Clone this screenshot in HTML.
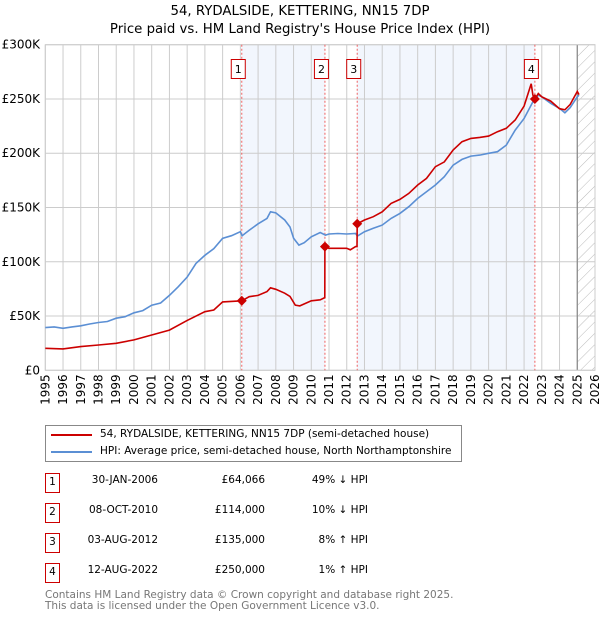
<!DOCTYPE html>
<html><head><meta charset="utf-8"><style>
body{margin:0;background:#fff;font-family:"DejaVu Sans","Liberation Sans",sans-serif;}
#wrap{position:relative;width:600px;height:620px;overflow:hidden}
.t{position:absolute;white-space:nowrap;font-size:12px;color:#000}
</style></head><body><div id="wrap">
<div class="t" style="left:0;width:600px;text-align:center;top:4px;font-size:13.3px">54, RYDALSIDE, KETTERING, NN15 7DP</div>
<div class="t" style="left:0;width:600px;text-align:center;top:22px;font-size:13.3px">Price paid vs. HM Land Registry's House Price Index (HPI)</div>
<svg id="chart" width="600" height="420" style="position:absolute;left:0;top:0" font-family="DejaVu Sans, Liberation Sans, sans-serif"></svg>
<div style="position:absolute;left:45px;top:425px;width:415px;height:35px;border:1px solid #888">
<div><div style="position:absolute;left:5px;top:8px;width:41px;height:2px;background:#cc0000"></div><div class="t" style="left:54px;top:2px;font-size:10.5px">54, RYDALSIDE, KETTERING, NN15 7DP (semi-detached house)</div></div>
<div><div style="position:absolute;left:5px;top:25px;width:41px;height:2px;background:#5b8fd4"></div><div class="t" style="left:54px;top:19px;font-size:10.5px">HPI: Average price, semi-detached house, North Northamptonshire</div></div>
</div>
<div id="table"></div>
<div class="t" style="left:45px;top:589px;font-size:10.5px;color:#777">Contains HM Land Registry data © Crown copyright and database right 2025.</div>
<div class="t" style="left:45px;top:600px;font-size:10.5px;color:#777">This data is licensed under the Open Government Licence v3.0.</div>
</div>
<script>
const hpiYears=[1995,1995.5,1996,1996.5,1997,1997.5,1998,1998.5,1999,1999.5,2000,2000.5,2001,2001.5,2002,2002.5,2003,2003.5,2004,2004.5,2005,2005.5,2006,2006.1,2006.5,2007,2007.5,2007.7,2008,2008.5,2008.8,2009,2009.3,2009.6,2010,2010.5,2010.8,2011,2011.5,2012,2012.5,2012.6,2013,2013.5,2014,2014.5,2015,2015.5,2016,2016.5,2017,2017.5,2018,2018.5,2019,2019.5,2020,2020.5,2021,2021.5,2022,2022.5,2022.8,2023,2023.5,2024,2024.3,2024.6,2025,2025.1];
const hpiValues=[39.3,40,38.7,40,41,42.7,44,45,48,49.4,53,55,60,62,69,77,86,98.5,106,112,121.6,124,127.7,124,129,135,140,146,145,138.5,132,121.6,115.4,117.6,123,127,124.6,125.6,126,125.6,126,123.7,127.7,130.8,133.8,140,144.6,150.7,158.4,164.6,170.7,178.4,189,194.3,197.4,198.3,199.9,201.4,207.5,221.3,232,247.4,253.6,252,246,241.3,237.3,242,252,253.5];
const priceYears=[1995,1996,1997,1998,1999,2000,2001,2002,2003,2004,2004.5,2005,2006.08,2006.5,2007,2007.5,2007.7,2008,2008.5,2008.8,2009.1,2009.35,2010,2010.5,2010.76,2010.77,2011,2011.5,2012,2012.2,2012.5,2012.58,2012.59,2013,2013.5,2014,2014.5,2015,2015.5,2016,2016.5,2017,2017.5,2018,2018.5,2019,2019.5,2020,2020.5,2021,2021.5,2022,2022.4,2022.5,2022.61,2022.8,2023,2023.5,2024,2024.3,2024.6,2025,2025.1];
const priceValues=[20.3,19.7,21.8,23.3,24.9,28,32.5,37,46,54,55.6,63,64.066,67.8,69,72.5,76,74.6,71,68,60,59.3,64,65,67,114,112.4,112.4,112.4,111,114,114,135,138.5,141.5,146,153.8,157.5,163,170.7,176.8,187.6,192,203,210.6,213.7,214.6,215.8,219.8,223,230.6,243.5,264,253.6,250,255,252,248,241,240,245,257,254];
const saleYears=[2006.08,2010.77,2012.59,2022.61];
const saleValues=[64.066,114,135,250];
const saleLabels=['1','2','3','4'];
const saleDates=['30-JAN-2006','08-OCT-2010','03-AUG-2012','12-AUG-2022'];
const salePrices=['£64,066','£114,000','£135,000','£250,000'];
const saleHpi=['49% ↓ HPI','10% ↓ HPI','8% ↑ HPI','1% ↑ HPI'];
const yTicks=[0,50,100,150,200,250,300];
const yTickLabels=['£0','£50K','£100K','£150K','£200K','£250K','£300K'];
const xTicks=[];for(let y=1995;y<=2026;y++)xTicks.push(y);

const X0=45.3,X1=595,Y0=370.3,Y1=44.7;
const xs=y=>X0+(y-1995)/(2026-1995)*(X1-X0);
const ys=v=>Y0-v/300*(Y0-Y1);
const NS='http://www.w3.org/2000/svg';
const svg=document.getElementById('chart');
function mk(tag,attrs,parent){const e=document.createElementNS(NS,tag);for(const k in attrs)e.setAttribute(k,attrs[k]);(parent||svg).appendChild(e);return e;}
const shades=[[saleYears[0],saleYears[1]],[saleYears[2],saleYears[3]]];
shades.forEach((s,i)=>{const r=mk('rect',{x:xs(s[0]),y:Y1,width:xs(s[1])-xs(s[0]),height:Y0-Y1,fill:'#eef3fc',opacity:0.75});

});
const defs=mk('defs',{});const pat=mk('pattern',{id:'hatch',width:8,height:8,patternUnits:'userSpaceOnUse',patternTransform:'rotate(45)'},defs);
mk('line',{x1:0,y1:0,x2:0,y2:8,stroke:'#bbb','stroke-width':1},pat);
const hr=mk('rect',{x:xs(2025.0),y:Y1,width:X1-xs(2025.0),height:Y0-Y1,fill:'url(#hatch)'});


xTicks.forEach(y=>{const l=mk('line',{x1:xs(y),x2:xs(y),y1:Y1,y2:Y0,stroke:'#ccc','stroke-width':1});


const t=mk('text',{x:0,y:0,transform:`translate(${xs(y)+4},${Y0+4}) rotate(-90)`,'text-anchor':'end','font-size':12,fill:'#000'});t.textContent=y;

});
yTicks.forEach((v,i)=>{const l=mk('line',{x1:X0,x2:X1,y1:ys(v),y2:ys(v),stroke:'#ccc','stroke-width':1});


const t=mk('text',{x:40,y:ys(v)+4,'text-anchor':'end','font-size':12,fill:'#000'});t.textContent=yTickLabels[i];

});
const dl=mk('line',{x1:xs(2025.0),x2:xs(2025.0),y1:Y1,y2:Y0,stroke:'#888','stroke-width':1.2});


const fr=mk('rect',{x:X0,y:Y1,width:X1-X0,height:Y0-Y1,fill:'none',stroke:'#ccc'});


saleYears.forEach((y,i)=>{const l=mk('line',{x1:xs(y),x2:xs(y),y1:Y1,y2:Y0,stroke:'#f06060','stroke-width':1,'stroke-dasharray':'2,2'});


const b=mk('rect',{x:xs(y)-10.5,y:59.5,width:14,height:19,fill:'#fff',stroke:'#cc0000'});


const t=mk('text',{x:xs(y)-3.5,y:73,'text-anchor':'middle','font-size':11});t.textContent=saleLabels[i];

});
function pts(a,b){return a.map((y,i)=>xs(y).toFixed(1)+','+ys(b[i]).toFixed(1)).join(' ');}
const hl=mk('polyline',{points:pts(hpiYears,hpiValues),fill:'none',stroke:'#5b8fd4','stroke-width':1.6});


const pl=mk('polyline',{points:pts(priceYears,priceValues),fill:'none',stroke:'#cc0000','stroke-width':1.6});


saleYears.forEach((y,i)=>{const x=xs(y),yy=ys(saleValues[i]);const d=mk('polygon',{points:`${x},${yy-5} ${x+5},${yy} ${x},${yy+5} ${x-5},${yy}`,fill:'#cc0000'});

});
const tb=document.getElementById('table');
const rowY=[470,500,530,560];
saleLabels.forEach((s,i)=>{const r=document.createElement('div');


r.style.cssText=`position:absolute;left:0;top:${rowY[i]}px;width:600px;height:22px`;
r.innerHTML=`<div style="position:absolute;left:45px;top:3px;width:13px;height:18px;border:1px solid #cc0000;font-size:10.5px;text-align:center;line-height:16px">${s}</div>
<div class="t" style="right:442px;top:4px;font-size:10.5px">${saleDates[i]}</div>
<div class="t" style="right:335px;top:4px;font-size:10.5px">${salePrices[i]}</div>
<div class="t" style="right:232px;top:4px;font-size:10.5px">${saleHpi[i]}</div>`;
tb.appendChild(r);});
</script></body></html>
